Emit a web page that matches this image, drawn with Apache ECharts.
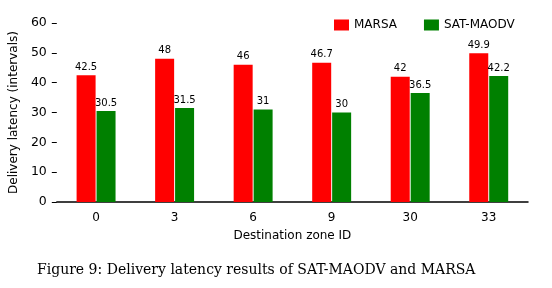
<!DOCTYPE html>
<html>
<head>
<meta charset="utf-8">
<script src="https://cdn.jsdelivr.net/npm/echarts@6/dist/echarts.min.js"></script>
<style>
  html, body { margin: 0; padding: 0; background: #fff; }
  #chart { width: 552px; height: 288px; }
</style>
</head>
<body>
<div id="chart"></div>
<script>
// destination zones on the x axis
const zones = ['0', '3', '6', '9', '30', '33']
const marsa = [42.5, 48, 46, 46.7, 42, 49.9]
const satMaodv = [30.5, 31.5, 31, 30, 36.5, 42.2]
const yTicks = [0, 10, 20, 30, 40, 50, 60]

const font = 'DejaVu Sans'
const chart = echarts.init(document.getElementById('chart'))

chart.setOption({
  animation: false,
  textStyle: { fontFamily: font, color: '#000' },
  title: {
    text: 'Figure 9: Delivery latency results of SAT-MAODV and MARSA',
    left: 32,
    top: 258,
    textStyle: { fontFamily: 'DejaVu Serif', fontSize: 14, fontWeight: 'normal', color: '#000' }
  },
  legend: {
    top: 14,
    left: 329,
    itemWidth: 15,
    itemHeight: 11,
    itemGap: 27,
    icon: 'rect',
    textStyle: { fontFamily: font, fontSize: 12, color: '#000' },
    data: ['MARSA', 'SAT-MAODV']
  },
  grid: { left: 54, right: 24, top: 23, bottom: 86 },
  xAxis: {
    type: 'category',
    data: zones,
    name: 'Destination zone ID',
    nameLocation: 'middle',
    nameGap: 28,
    nameTextStyle: { fontFamily: font, fontSize: 12, color: '#000' },
    axisLine: { lineStyle: { color: '#000', width: 1.5 } },
    axisTick: { alignWithLabel: true, length: 3, lineStyle: { color: '#000' } },
    axisLabel: { fontFamily: font, fontSize: 12, color: '#000', margin: 10 }
  },
  yAxis: {
    type: 'value',
    min: yTicks[0],
    max: yTicks[yTicks.length - 1],
    interval: 10,
    name: 'Delivery latency (intervals)',
    nameLocation: 'middle',
    nameGap: 36,
    nameTextStyle: { fontFamily: font, fontSize: 12, color: '#000' },
    axisLine: { show: false },
    axisTick: { show: true, length: 5, lineStyle: { color: '#000' } },
    axisLabel: { fontFamily: font, fontSize: 12.5, color: '#000', margin: 10 },
    splitLine: { show: false }
  },
  series: [
    {
      name: 'MARSA',
      type: 'bar',
      data: marsa,
      barWidth: 19,
      barGap: '5%',
      itemStyle: { color: '#ff0000' },
      label: { show: true, position: 'top', distance: 3, fontFamily: font, fontSize: 10, color: '#000' }
    },
    {
      name: 'SAT-MAODV',
      type: 'bar',
      data: satMaodv,
      barWidth: 19,
      itemStyle: { color: '#008000' },
      label: { show: true, position: 'top', distance: 3, fontFamily: font, fontSize: 10, color: '#000' }
    }
  ]
})
</script>
</body>
</html>
